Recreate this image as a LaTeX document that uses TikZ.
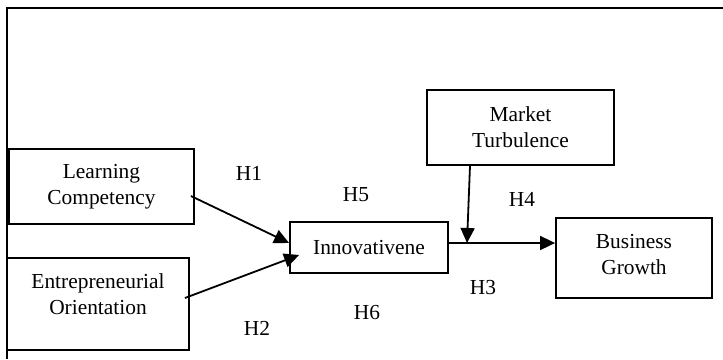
\documentclass[tikz,border=0pt]{standalone}
\usepackage{fontspec}
\setmainfont{Liberation Serif}
\usepackage{tikz}
\usetikzlibrary{arrows.meta,positioning,calc}

\begin{document}
\begin{tikzpicture}[
    x=0.5pt, y=-0.5pt,
    font=\fontsize{10.7}{13}\selectfont,
    box/.style={draw, line width=0.9pt, align=center, inner sep=2pt},
    hyp/.style={inner sep=0pt},
    arr/.style={-{Triangle[length=7.5pt, width=7pt]}, line width=0.9pt},
]
    \useasboundingbox (0,0) rectangle (723,359);

    % Frame
    \draw[line width=1pt] (7,359) -- (7,8) -- (723,8);

    % Constructs
    \node[box, minimum width=92.5pt, minimum height=37.5pt] (lc) at (101.5,186.5) {Learning\\Competency};
    \node[box, minimum width=91pt, minimum height=46pt,
        label={[align=center, yshift=5pt]center:Entrepreneurial\\Orientation}] (eo) at (98,304) {};
    \node[box, minimum width=79pt, minimum height=25.5pt] (inno) at (369,247.5) {Innovativene};
    \node[box, minimum width=93.5pt, minimum height=37.5pt] (mt) at (520.5,127.5) {Market\\Turbulence};
    \node[box, minimum width=78pt, minimum height=40pt,
        label={[align=center, yshift=1.5pt]center:Business\\Growth}] (bg) at (634,258) {};

    % Hypotheses
    \node[hyp] (h1) at (249,173) {H1};
    \node[hyp] (h5) at (356,195) {H5};
    \node[hyp] (h4) at (522,199) {H4};
    \node[hyp] (h3) at (483,288) {H3};
    \node[hyp] (h6) at (367,313) {H6};
    \node[hyp] (h2) at (257,328) {H2};

    % Arrows
    \coordinate (mod) at (467,243);
    \draw[arr] ([xshift=-2pt, yshift=-4.75pt]lc.east) -- ([yshift=2.25pt]inno.west);
    \draw[arr] ([xshift=-2.5pt, yshift=3pt]eo.east) -- ([xshift=5pt, yshift=-3.75pt]inno.west);
    \draw[arr] ([yshift=2.25pt]inno.east) -- ([yshift=2.25pt]inno.east -| bg.west);
    \draw[arr] ([xshift=-25.25pt]mt.south) -- (mod);
\end{tikzpicture}
\end{document}
